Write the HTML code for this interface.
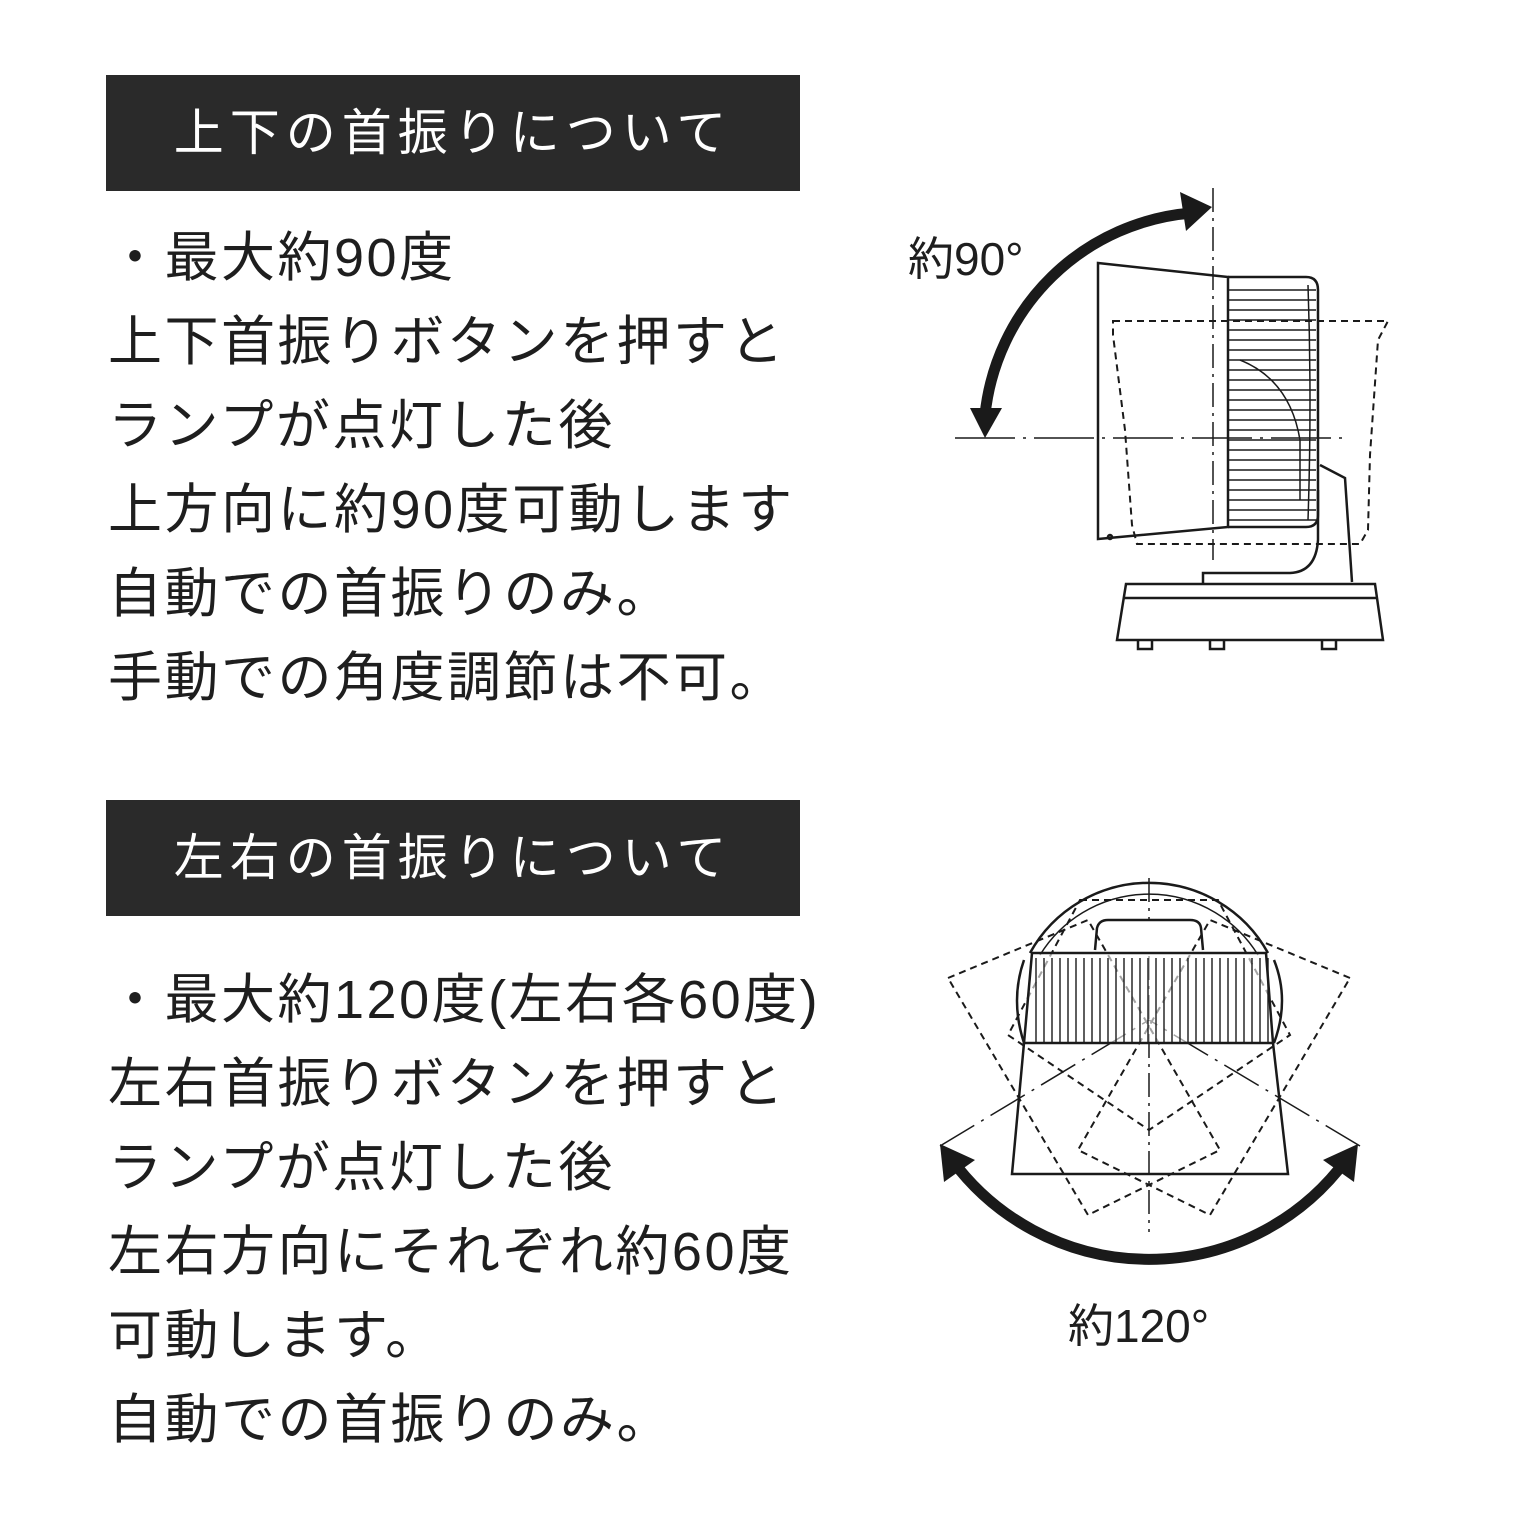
<!DOCTYPE html>
<html><head><meta charset="utf-8"><style>
body{margin:0;width:1536px;height:1536px;background:#fff;position:relative;overflow:hidden;font-family:"Liberation Sans","Noto Sans CJK JP",sans-serif;color:#1e1e1e}
.hd{position:absolute;left:106px;width:694px;height:116px;background:#2a2a2a;color:#fff;font-size:50px;letter-spacing:6px;line-height:116px;text-align:center}
.t{position:absolute;left:108px;font-size:54px;letter-spacing:2.5px;line-height:84px;white-space:nowrap}
svg{position:absolute;left:0;top:0}
</style></head><body>
<div class="hd" style="top:75px">上下の首振りについて</div>
<div class="t" style="top:216px">・最大約90度<br>上下首振りボタンを押すと<br>ランプが点灯した後<br>上方向に約90度可動します<br>自動での首振りのみ。<br>手動での角度調節は不可。</div>
<div class="hd" style="top:800px">左右の首振りについて</div>
<div class="t" style="top:958px">・最大約120度(左右各60度)<br>左右首振りボタンを押すと<br>ランプが点灯した後<br>左右方向にそれぞれ約60度<br>可動します。<br>自動での首振りのみ。</div>
<svg width="1536" height="1536" viewBox="0 0 1536 1536">
<g fill="none" stroke="#1a1a1a" stroke-width="2.5">
<text x="908" y="275" font-size="46" fill="#1e1e1e" stroke="none" font-family="Liberation Sans,Noto Sans CJK JP,sans-serif">約90°</text>
<line x1="1213" y1="188" x2="1213" y2="560" stroke-width="1.5" stroke-dasharray="24,6,3,6"/>
<line x1="955" y1="438" x2="1345" y2="438" stroke-width="1.5" stroke-dasharray="60,8,3,8"/>
<path d="M1113 321 L1388 321 L1378 340 L1370 455 L1368 530 L1360 544 L1137 544 L1132 525 L1125 430 L1113 335 Z" stroke-dasharray="7,5" stroke-width="2"/>
<path d="M1098 263 L1228 277 L1228 527 L1098 539 Z"/>
<path d="M1228 277 L1306 277 Q1318 277 1318 290 L1318 515 Q1318 527 1306 527 L1228 527"/>
<g stroke-width="1.5">
<path d="M1228 290H1316M1228 300H1316M1228 310H1316M1228 320H1316M1228 330H1316M1228 340H1316M1228 350H1316M1228 360H1316M1228 370H1316M1228 380H1316M1228 390H1316M1228 400H1316M1228 410H1316M1228 420H1316M1228 430H1316M1228 440H1316M1228 450H1316M1228 460H1316M1228 470H1316M1228 480H1316M1228 490H1316M1228 500H1316M1228 510H1316M1228 520H1316"/>
<path d="M1308 285 Q1312 400 1308 520"/>
<path d="M1240 360 Q1290 380 1300 440 L1300 500"/>
</g>
<path d="M1320 465 L1345 478 L1352 582"/>
<path d="M1318 490 L1318 540 Q1316 572 1290 573 L1203 573 L1203 584"/>
<path d="M1126 584 L1375 584 L1383 640 L1117 640 Z" fill="#fff"/>
<line x1="1124" y1="598" x2="1377" y2="598"/>
<path d="M1138 640v9h14v-9M1210 640v9h14v-9M1322 640v9h14v-9"/>
<circle cx="1110" cy="537" r="2"/>
</g>
<path d="M985 415 A226 226 0 0 1 1192 213" fill="none" stroke="#1a1a1a" stroke-width="11"/>
<polygon points="1212,207 1180,192 1186,231" fill="#1a1a1a"/>
<polygon points="985,438 970,408 1002,408" fill="#1a1a1a"/>

<g fill="none" stroke="#1a1a1a" stroke-width="2.5">
<line x1="1149" y1="878" x2="1149" y2="1232" stroke-width="1.5" stroke-dasharray="24,6,3,6"/>
<path d="M1030 953 A136 136 0 0 1 1268 953" />
<path d="M1040 955 A128 128 0 0 1 1258 955" stroke-width="1.5"/>
<path d="M1024 1043 Q1010 1000 1024 960 M1274 1043 Q1290 1000 1274 960"/>
<path d="M1095 950 L1097 928 Q1099 920 1108 920 L1190 920 Q1200 920 1201 928 L1203 950" fill="#fff"/>
<g stroke-dasharray="7,5" stroke-width="2">
<polygon points="948,978 1088,920 1220,1150 1088,1215"/>
<polygon points="1350,978 1210,920 1078,1150 1210,1215"/>
<polygon points="1080,900 1218,900 1290,1035 1149,1130 1008,1035"/>
</g>
<line x1="940" y1="1146" x2="1149" y2="1020" stroke-width="1.5" stroke-dasharray="40,8,3,8"/>
<line x1="1360" y1="1146" x2="1149" y2="1020" stroke-width="1.5" stroke-dasharray="40,8,3,8"/>
<path d="M1032 953 L1266 953 L1273 1043 L1024 1043 Z" fill="#fff" fill-opacity="0.6"/>
<g stroke-width="1.4">
<path d="M1036 958V1043M1044 958V1043M1052 958V1043M1060 958V1043M1068 958V1043M1076 958V1043M1084 958V1043M1092 958V1043M1100 958V1043M1108 958V1043M1116 958V1043M1124 958V1043M1132 958V1043M1140 958V1043M1148 958V1043M1156 958V1043M1164 958V1043M1172 958V1043M1180 958V1043M1188 958V1043M1196 958V1043M1204 958V1043M1212 958V1043M1220 958V1043M1228 958V1043M1236 958V1043M1244 958V1043M1252 958V1043M1260 958V1043M1268 958V1043"/>
</g>
<path d="M1024 1043 L1012 1174 L1288 1174 L1273 1043"/>
</g>
<path d="M952 1160 A245 245 0 0 0 1346 1160" fill="none" stroke="#1a1a1a" stroke-width="11"/>
<polygon points="940,1144 975,1160 944,1182" fill="#1a1a1a"/>
<polygon points="1358,1144 1323,1160 1354,1182" fill="#1a1a1a"/>
<text x="1068" y="1342" font-size="46" fill="#1e1e1e" font-family="Liberation Sans,Noto Sans CJK JP,sans-serif">約120°</text>
</svg>
</body></html>
